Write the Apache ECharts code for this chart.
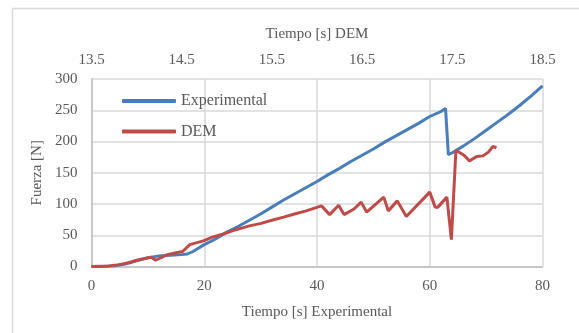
<!DOCTYPE html>
<html>
<head>
<meta charset="utf-8">
<script src="https://cdn.jsdelivr.net/npm/echarts@6/dist/echarts.min.js"></script>
<style>html,body{margin:0;padding:0;background:#fff;}#c{width:579px;height:333px;}</style>
</head>
<body>
<div id="c"></div>
<script>
// Experimental: time [s] (bottom axis) and force [N]
var expTime = [0, 2, 4, 6, 8, 10, 12, 14, 16, 17, 18, 20, 22, 24, 26, 28, 30, 32, 34, 36, 38, 40, 42, 44, 46, 48, 50, 52, 54, 56, 58, 60, 62, 62.8, 63.3, 64, 66, 68, 70, 72, 74, 76, 78, 80];
var expForce = [0, 0, 1, 4, 9, 14, 17, 18, 19, 20, 24, 35, 44, 55, 64, 74, 84, 95, 106, 116, 126, 136, 147, 157, 168, 178, 188, 199, 209, 219, 229, 240, 248, 253, 179, 182, 193, 205, 218, 231, 244, 258, 273, 289];
// DEM: time [s] (top axis) and force [N]
var demTime = [13.5, 13.69, 13.81, 13.91, 14.0, 14.13, 14.16, 14.21, 14.27, 14.34, 14.44, 14.51, 14.59, 14.74, 14.84, 14.96, 15.06, 15.25, 15.38, 15.5, 15.63, 15.75, 15.88, 16.05, 16.14, 16.24, 16.30, 16.41, 16.49, 16.55, 16.74, 16.79, 16.89, 16.99, 17.25, 17.31, 17.34, 17.44, 17.49, 17.54, 17.63, 17.69, 17.77, 17.84, 17.90, 17.95, 17.99];
var demForce = [0, 1, 3, 6, 10, 14, 15, 10, 14, 19, 22, 24, 35, 41, 47, 52, 57, 65, 69, 74, 79, 84, 89, 97, 83, 98, 83, 92, 103, 87, 111, 89, 105, 80, 119, 95, 95, 111, 43, 186, 178, 169, 176, 177, 183, 192, 190];

var seriesNames = ['Experimental', 'DEM'];
var axisTitles = {bottom: 'Tiempo [s] Experimental', top: 'Tiempo [s] DEM', left: 'Fuerza [N]'};

function pairs(xs, ys) { return xs.map(function (x, i) { return [x, ys[i]]; }); }

var font = 'Liberation Serif';
var txt = '#595959';
var chart = echarts.init(document.getElementById('c'));
chart.setOption({
  animation: false,
  backgroundColor: '#fff',
  graphic: [
    {type: 'line', shape: {x1: 12.5, y1: 8.5, x2: 12.5, y2: 340}, style: {stroke: '#d9d9d9', lineWidth: 1.5}},
    {type: 'line', shape: {x1: 12.5, y1: 8.5, x2: 590, y2: 8.5}, style: {stroke: '#d9d9d9', lineWidth: 1.5}}
  ],
  grid: {left: 91.5, right: 36.5, top: 79, bottom: 66.5, containLabel: false},
  legend: {
    orient: 'vertical', left: 122, top: 93, padding: 0, itemWidth: 54, itemHeight: 4, itemGap: 14.5,
    icon: 'roundRect',
    textStyle: {fontFamily: font, fontSize: 16, color: txt, lineHeight: 16},
    data: seriesNames
  },
  xAxis: [
    {
      type: 'value', position: 'bottom', min: 0, max: 80, interval: 20,
      name: axisTitles.bottom, nameLocation: 'middle', nameGap: 38,
      nameTextStyle: {fontFamily: font, fontSize: 15, color: txt},
      axisLine: {show: true, lineStyle: {color: '#bfbfbf', width: 1.5}},
      axisTick: {show: false},
      axisLabel: {fontFamily: font, fontSize: 15, color: txt, margin: 12},
      splitLine: {show: true, lineStyle: {color: '#d9d9d9', width: 1.5}}
    },
    {
      type: 'value', position: 'top', min: 13.5, max: 18.5, interval: 0.5,
      name: axisTitles.top, nameLocation: 'middle', nameGap: 37,
      nameTextStyle: {fontFamily: font, fontSize: 15, color: txt},
      axisLine: {show: false},
      axisTick: {show: false},
      axisLabel: {fontFamily: font, fontSize: 15, color: txt, margin: 11,
        formatter: function (v) { var r = Math.round(v * 10) / 10; return (Math.round(r * 2) % 2 === 1) ? r.toFixed(1) : ''; }},
      splitLine: {show: false}
    }
  ],
  yAxis: {
    type: 'value', min: 0, max: 300, interval: 50,
    name: axisTitles.left, nameLocation: 'middle', nameGap: 47,
    nameTextStyle: {fontFamily: font, fontSize: 15, color: txt},
    axisLine: {show: true, lineStyle: {color: '#bfbfbf', width: 1.5}},
    axisTick: {show: false},
    axisLabel: {fontFamily: font, fontSize: 15, color: txt, margin: 14},
    splitLine: {show: true, lineStyle: {color: '#d9d9d9', width: 1.5}}
  },
  series: [
    {name: seriesNames[0], type: 'line', xAxisIndex: 0, data: pairs(expTime, expForce), showSymbol: false,
      color: '#4A7EBB', lineStyle: {width: 3, color: '#4A7EBB'}},
    {name: seriesNames[1], type: 'line', xAxisIndex: 1, data: pairs(demTime, demForce), showSymbol: false,
      color: '#BE4B48', lineStyle: {width: 3, color: '#BE4B48'}}
  ]
});
</script>
</body>
</html>
